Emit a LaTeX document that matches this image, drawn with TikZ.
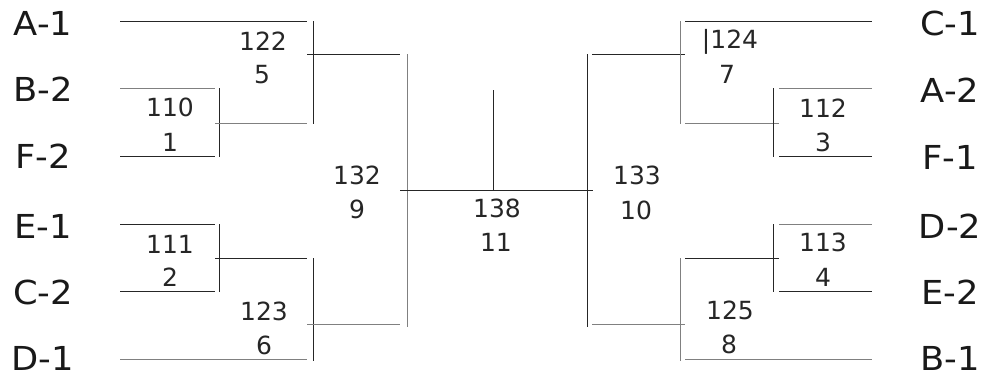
\documentclass[tikz,border=0pt]{standalone}
\usepackage{fontspec}
\setmainfont{DejaVu Sans}
\begin{document}
\begin{tikzpicture}[x=1pt,y=-1pt,
  dk/.style={draw=black!85,line width=1pt},
  lt/.style={draw=black!50,line width=0.9pt},
  team/.style={inner sep=0pt,xscale=1.07,font=\fontsize{33}{33}\selectfont,text=black!90},
  num/.style={inner sep=0pt,font=\fontsize{25}{25}\selectfont,text=black!85}]
\useasboundingbox (0,0) rectangle (991,378);
% ---------- left half ----------
\draw[dk] (120,21) -- (307,21);
\draw[lt] (120,88) -- (215,88);
\draw[dk] (120,156) -- (215,156);
\draw[dk] (120,224) -- (215,224);
\draw[dk] (120,291) -- (215,291);
\draw[lt] (120,359) -- (307,359);
\draw[dk] (219,88) -- (219,157);
\draw[dk] (219,224) -- (219,292);
\draw[lt] (215,123) -- (307,123);
\draw[dk] (215,258) -- (307,258);
\draw[dk] (313,21) -- (313,124);
\draw[dk] (313,258) -- (313,361);
\draw[dk] (307,54) -- (400,54);
\draw[lt] (307,324) -- (400,324);
\draw[lt] (407,54) -- (407,327);
% ---------- centre ----------
\draw[dk] (400,190) -- (593,190);
\draw[dk] (493,90) -- (493,190);
% ---------- right half ----------
\draw[dk] (587,54) -- (587,327);
\draw[dk] (592,54) -- (685,54);
\draw[lt] (592,324) -- (685,324);
\draw[lt] (680,21) -- (680,124);
\draw[lt] (680,258) -- (680,361);
\draw[dk] (685,21) -- (872,21);
\draw[lt] (685,359) -- (872,359);
\draw[lt] (685,123) -- (779,123);
\draw[dk] (685,258) -- (779,258);
\draw[dk] (773,88) -- (773,157);
\draw[dk] (773,224) -- (773,292);
\draw[lt] (779,88) -- (872,88);
\draw[dk] (779,156) -- (872,156);
\draw[lt] (779,224) -- (872,224);
\draw[dk] (779,291) -- (872,291);
% ---------- team labels ----------
\node[team] (a1) at (43,23) {A-1};
\node[team] (b2) at (43,89) {B-2};
\node[team] (f2) at (43,156) {F-2};
\node[team] (e1) at (43,226) {E-1};
\node[team] (c2) at (43,292) {C-2};
\node[team] (d1) at (43,358) {D-1};
\node[team] (c1) at (950,23) {C-1};
\node[team] (a2) at (950,90) {A-2};
\node[team] (f1) at (950,157) {F-1};
\node[team] (d2) at (950,226) {D-2};
\node[team] (e2) at (950,292) {E-2};
\node[team] (b1) at (950,358) {B-1};
% ---------- match numbers ----------
\node[num] (m110) at (170,107) {110};
\node[num] (g1) at (170,142) {1};
\node[num] (m122) at (263,41) {122};
\node[num] (g5) at (262,75) {5};
\node[num] (m111) at (170,244) {111};
\node[num] (g2) at (170,277) {2};
\node[num] (m123) at (264,311) {123};
\node[num] (g6) at (264,345) {6};
\node[num] (m132) at (357,175) {132};
\node[num] (g9) at (357,209) {9};
\node[num] (m138) at (497,208) {138};
\node[num] (g11) at (496,242) {11};
\node[num] (m133) at (637,175) {133};
\node[num] (g10) at (636,210) {10};
\node[num] (m124) at (730,42) {|124};
\node[num] (g7) at (727,74) {7};
\node[num] (m112) at (823,108) {112};
\node[num] (g3) at (823,142) {3};
\node[num] (m113) at (823,242) {113};
\node[num] (g4) at (823,277) {4};
\node[num] (m125) at (730,310) {125};
\node[num] (g8) at (729,344) {8};
\end{tikzpicture}
\end{document}
